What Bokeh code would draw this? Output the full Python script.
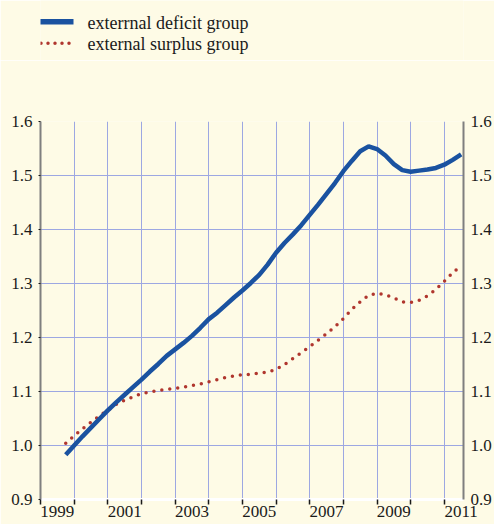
from bokeh.plotting import figure
from bokeh.layouts import column
from bokeh.models import (Range1d, LinearAxis, FixedTicker, CustomJSTickFormatter,
                          PrintfTickFormatter, ColumnDataSource)
from bokeh.core.properties import value
from bokeh.embed import file_html
from bokeh.resources import INLINE

# quarterly observations (decimal years)
quarters = [1999.75,
            2000.00, 2000.25, 2000.50, 2000.75,
            2001.00, 2001.25, 2001.50, 2001.75,
            2002.00, 2002.25, 2002.50, 2002.75,
            2003.00, 2003.25, 2003.50, 2003.75,
            2004.00, 2004.25, 2004.50, 2004.75,
            2005.00, 2005.25, 2005.50, 2005.75,
            2006.00, 2006.25, 2006.50, 2006.75,
            2007.00, 2007.25, 2007.50, 2007.75,
            2008.00, 2008.25, 2008.50, 2008.75,
            2009.00, 2009.25, 2009.50, 2009.75,
            2010.00, 2010.25, 2010.50, 2010.75,
            2011.00, 2011.25, 2011.50]

deficit_group = [0.983,
                 1.000, 1.017, 1.033, 1.049,
                 1.065, 1.080, 1.094, 1.108,
                 1.122, 1.137, 1.151, 1.166,
                 1.178, 1.190, 1.203, 1.218,
                 1.234, 1.246, 1.260, 1.274,
                 1.287, 1.301, 1.316, 1.335,
                 1.357, 1.375, 1.391, 1.408,
                 1.427, 1.446, 1.466, 1.486,
                 1.508, 1.527, 1.545, 1.554,
                 1.549, 1.537, 1.521, 1.510,
                 1.507, 1.509, 1.511, 1.514,
                 1.520, 1.529, 1.539]

surplus_group = [1.004,
                 1.018, 1.031, 1.043, 1.055,
                 1.065, 1.076, 1.084, 1.090,
                 1.096, 1.099, 1.102, 1.104,
                 1.106, 1.108, 1.111, 1.114,
                 1.118, 1.122, 1.126, 1.129,
                 1.131, 1.132, 1.134, 1.136,
                 1.141, 1.150, 1.161, 1.172,
                 1.183, 1.195, 1.207, 1.220,
                 1.235, 1.252, 1.266, 1.278,
                 1.282, 1.279, 1.273, 1.266,
                 1.265, 1.269, 1.277, 1.289,
                 1.304, 1.320, 1.333]

series_names = ["exterrnal deficit group", "external surplus group"]
year_ticks = [1999, 2000, 2001, 2002, 2003, 2004, 2005, 2006, 2007, 2008, 2009, 2010, 2011]
label_years = [1999, 2001, 2003, 2005, 2007, 2009, 2011]
y_ticks = [0.9, 1.0, 1.1, 1.2, 1.3, 1.4, 1.5, 1.6]

BG = "#FEFBE6"
BLUE = "#1A52A0"
RED = "#B0362E"
GRID = "#9DA7E2"
AXIS_GREY = "#7F7F7F"
TXT = "#1A1A1A"
FONT = "Liberation Serif"
W = 494
LEG_H = 60
FRAME_L = 40
FRAME_R = 463

# ---------- legend strip (pixel-like coordinates; frame aligned with chart frame) ----------
leg = figure(width=W, height=LEG_H, output_backend="svg", toolbar_location=None,
             x_range=Range1d(FRAME_L, FRAME_R), y_range=Range1d(LEG_H, 0),
             x_axis_location=None, y_axis_location=None,
             min_border=0, min_border_left=FRAME_L, min_border_right=W - FRAME_R,
             min_border_top=0, min_border_bottom=0,
             background_fill_color=BG, border_fill_color=BG, outline_line_color=None)
leg.grid.visible = False
leg.line(x=[38, 73], y=[21.3, 21.3], line_color=BLUE, line_width=5.5)
leg.line(x=[40.5, 70], y=[42.7, 42.7], line_color=RED, line_width=3.5,
         line_dash="0 7", line_cap="round")
leg.text(x=[87, 87], y=[22, 43], text=series_names,
         text_font=value(FONT), text_font_size="18px", text_color=TXT,
         text_baseline="middle", text_align="left")

# ---------- main chart ----------
p = figure(width=W, height=464, output_backend="svg", toolbar_location=None,
           x_range=Range1d(1999, 2011.57), y_range=Range1d(0.9, 1.6),
           min_border_left=FRAME_L, min_border_right=W - FRAME_R,
           min_border_top=61, min_border_bottom=25,
           background_fill_color=BG, border_fill_color=BG, outline_line_color=None)

src = ColumnDataSource(dict(x=quarters, d=deficit_group, s=surplus_group))

p.line("x", "s", source=src, line_color=RED, line_width=3.5, line_dash="0 8", line_cap="round")
p.line("x", "d", source=src, line_color=BLUE, line_width=4.5)

# grids
p.xgrid.ticker = FixedTicker(ticks=year_ticks)
p.ygrid.ticker = FixedTicker(ticks=y_ticks)
p.xgrid.grid_line_color = GRID
p.ygrid.grid_line_color = GRID
p.xgrid.grid_line_width = 1
p.ygrid.grid_line_width = 1

# x axis
xa = p.xaxis[0]
xa.ticker = FixedTicker(ticks=[y + 0.5 for y in label_years], minor_ticks=year_ticks)
xa.formatter = CustomJSTickFormatter(code="return String(Math.floor(tick));")
xa.axis_line_color = "white"
xa.axis_line_width = 3
xa.major_tick_out = 0
xa.major_tick_in = 0
xa.minor_tick_out = 5
xa.minor_tick_in = 0
xa.minor_tick_line_color = TXT
xa.minor_tick_line_width = 1.5
xa.major_label_standoff = 1
xa.major_label_text_font = FONT
xa.major_label_text_font_size = "17px"
xa.major_label_text_color = TXT

# left y axis
ya = p.yaxis[0]
ya.ticker = FixedTicker(ticks=y_ticks)
ya.formatter = PrintfTickFormatter(format="%.1f")
ya.axis_line_color = AXIS_GREY
ya.axis_line_width = 2
ya.major_tick_out = 2
ya.major_tick_in = 0
ya.major_tick_line_color = TXT
ya.minor_tick_line_color = None
ya.major_label_standoff = 6
ya.major_label_text_font = FONT
ya.major_label_text_font_size = "17px"
ya.major_label_text_color = TXT

# right y axis
ra = LinearAxis(ticker=FixedTicker(ticks=y_ticks), formatter=PrintfTickFormatter(format="%.1f"))
ra.axis_line_color = AXIS_GREY
ra.axis_line_width = 2
ra.major_tick_out = 0
ra.major_tick_in = 0
ra.minor_tick_line_color = None
ra.major_label_standoff = 7
ra.major_label_text_font = FONT
ra.major_label_text_font_size = "17px"
ra.major_label_text_color = TXT
p.add_layout(ra, "right")

layout = column(leg, p, spacing=0)
open("out.html", "w").write(file_html(layout, INLINE))
